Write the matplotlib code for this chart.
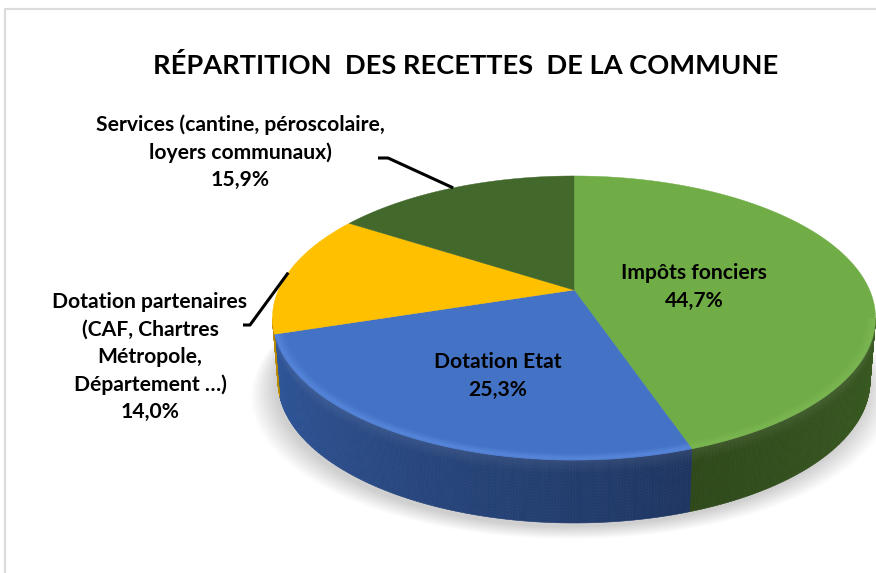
import matplotlib
matplotlib.use("Agg")
import matplotlib.pyplot as plt
import numpy as np
from matplotlib.collections import PolyCollection

plt.rcParams["font.family"] = ["Lato", "DejaVu Sans"]

TITLE = "RÉPARTITION  DES RECETTES  DE LA COMMUNE"
names = ["Impôts fonciers", "Dotation Etat", "Dotation partenaires", "Services"]
values = [44.7, 25.3, 14.0, 15.9]
value_labels = ["44,7%", "25,3%", "14,0%", "15,9%"]
top_colors = ["#70ad47", "#4472c4", "#ffc000", "#43682b"]
rim_colors = ["#7db853", "#5a8be0", "#ffc000", "#43682b"]
# couleur du flanc : gauche -> droite
side_left = ["#3a5c22", "#31599f", "#b88a00", "#2f4a1e"]
side_right = ["#3a5c22", "#1e3561", "#b88a00", "#2f4a1e"]
side_green_left = "#2d4719"

# géométrie du camembert 3D (pixels de l'image)
CX, CY = 574, 290
A, B, K = 295.6, 136.5, 0.197
DEPTH = 63
BOTTOM_SCALE = 0.982


def project(theta, r=1.0, bottom=False):
    """Cercle -> ellipse en perspective ; theta en radians, sens horaire depuis le haut."""
    x = r * np.sin(theta)
    y = r * np.cos(theta)
    d = 1 + K * y
    px = A * x / d
    py = -B * y / d
    if bottom:
        return CX + px * BOTTOM_SCALE, CY + py + DEPTH
    return CX + px, CY + py


def mix(c1, c2, t):
    return tuple(np.array(matplotlib.colors.to_rgb(c1)) * (1 - t)
                 + np.array(matplotlib.colors.to_rgb(c2)) * t)


fig = plt.figure(figsize=(8.76, 5.73), dpi=100)
ax = fig.add_axes([0, 0, 1, 1])
ax.set_xlim(0, 876)
ax.set_ylim(573, 0)
ax.axis("off")

# cadre gris de l'image
ax.plot([5, 5, 876], [573, 9, 9], color="#dcdcdc", lw=1.6, zorder=1)

total = sum(values)
edges = np.radians(np.cumsum([0] + values) / total * 360)
mids = (edges[:-1] + edges[1:]) / 2

# ombre portée, très douce
t_all = np.linspace(0, 2 * np.pi, 300)
for grow in np.linspace(24, 0, 16):
    sx, sy = project(t_all, bottom=True)
    sx = CX + (sx - CX) * (1 + grow / 300) - 3
    sy = sy + 4 + grow * 0.5
    ax.fill(sx, sy, color="#000000", alpha=0.011, lw=0, zorder=2)

# flancs visibles (silhouette entre cos(theta) = -K des deux côtés)
th_min = np.arccos(-K)
th_max = 2 * np.pi - th_min
for i in range(len(values)):
    lo = max(edges[i], th_min)
    hi = min(edges[i + 1], th_max)
    if hi <= lo:
        continue
    ts = np.linspace(lo, hi, max(int(np.degrees(hi - lo) * 2), 3))
    vs = np.linspace(0, 1, 22)
    polys, cols = [], []
    for t0, t1 in zip(ts[:-1], ts[1:]):
        x0t, y0t = project(t0)
        x1t, y1t = project(t1)
        x0b, y0b = project(t0, bottom=True)
        x1b, y1b = project(t1, bottom=True)
        # position horizontale 0 (gauche) -> 1 (droite) pour le dégradé
        frac = np.clip((th_max - (t0 + t1) / 2) / (th_max - th_min), 0, 1)
        if i == 0:
            base = mix(side_green_left, side_right[0], (frac - 0.6) / 0.4)
        else:
            base = mix(side_left[i], side_right[i], frac / 0.62)
        for v0, v1 in zip(vs[:-1], vs[1:]):
            polys.append([(x0t + (x0b - x0t) * v0, y0t + (y0b - y0t) * v0),
                          (x1t + (x1b - x1t) * v0, y1t + (y1b - y1t) * v0),
                          (x1t + (x1b - x1t) * v1, y1t + (y1b - y1t) * v1),
                          (x0t + (x0b - x0t) * v1, y0t + (y0b - y0t) * v1)])
            # biseau clair en haut du flanc
            glow = max(0.0, 1 - v0 / 0.2) * 0.07
            cols.append(mix(base, "#ffffff", glow))
    ax.add_collection(PolyCollection(polys, facecolors=cols, edgecolors=cols,
                                     linewidths=0.4, zorder=3))

# dessus du camembert
for i in range(len(values)):
    ts = np.linspace(edges[i], edges[i + 1], 200)
    ex, ey = project(ts)
    ax.fill(np.r_[CX, ex], np.r_[CY, ey], color=top_colors[i], lw=0.3, zorder=4)

# reflet du bord avant
for i in range(len(values)):
    lo = max(edges[i], th_min)
    hi = min(edges[i + 1], th_max)
    if hi <= lo:
        continue
    ts = np.linspace(lo, hi, 120)
    for r, al in zip([0.995, 0.988, 0.981, 0.974], [0.6, 0.45, 0.28, 0.14]):
        rx, ry = project(ts, r=r)
        ax.plot(rx, ry, color=rim_colors[i], alpha=al, lw=2.2,
                solid_capstyle="butt", zorder=5)

# traits de rappel
for idx, tail in [(3, [(388, 158), (378, 158)]), (2, [(250, 325), (243, 325)])]:
    ex, ey = project(mids[idx], r=1.0)
    xs = [ex] + [p[0] for p in tail]
    ys = [ey] + [p[1] for p in tail]
    ax.plot(xs, ys, color="black", lw=2.2, zorder=6, solid_capstyle="butt")

# textes
ax.text(466, 66, TITLE, ha="center", va="center", fontsize=19.6,
        fontweight="bold", color="black", zorder=7)


def label(x, y, lines, step, size=15.2):
    for n, s in enumerate(lines):
        ax.text(x, y + n * step, s, ha="center", va="center", fontsize=size,
                fontweight="bold", color="black", zorder=7)


label(694, 273, [names[0], value_labels[0]], 28)
label(498, 362, [names[1], value_labels[1]], 28)
label(240, 125, ["Services (cantine, péroscolaire,", "loyers communaux)", value_labels[3]], 27.5)
label(150, 302, [names[2], "(CAF, Chartres", "Métropole,", "Département …)", value_labels[2]], 27.5)

fig.savefig("out.png", dpi=100, facecolor="white")
plt.close(fig)
